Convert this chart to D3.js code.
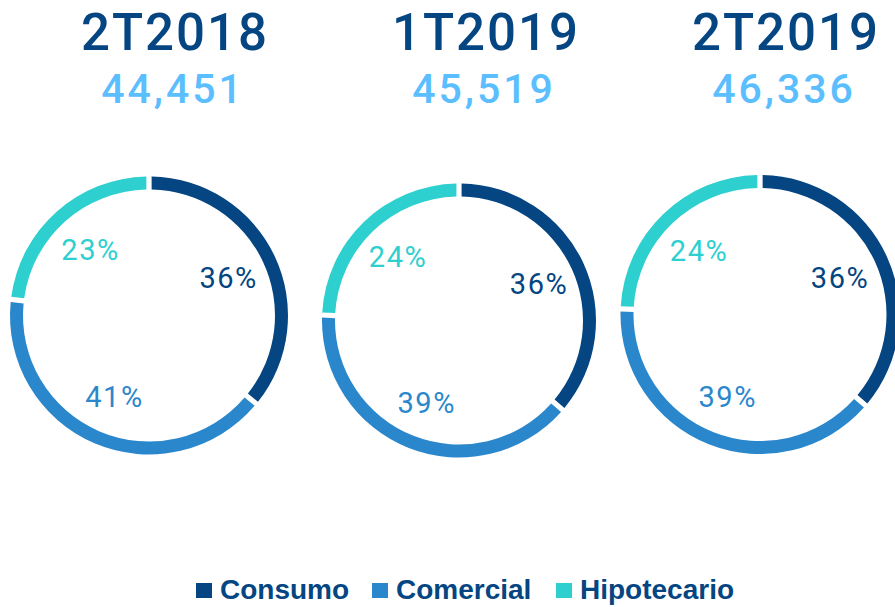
<!DOCTYPE html>
<html>
<head>
<meta charset="utf-8">
<script src="https://cdn.jsdelivr.net/npm/d3@7"></script>
<style>
  html, body { margin: 0; padding: 0; background: #fff; }
  svg { display: block; }
</style>
</head>
<body>
<svg id="chart"></svg>
<script>
// data
const periods = ["2T2018", "1T2019", "2T2019"];
const totals = ["44,451", "45,519", "46,336"];
const categories = ["Consumo", "Comercial", "Hipotecario"];
const consumo = [36, 36, 36];
const comercial = [41, 39, 39];
const hipotecario = [23, 24, 24];

const colors = ["#044582", "#2b87cc", "#2ecfcf"];
const navy = "#044582";
const lightBlue = "#5bbeff";

const width = 895, height = 607;

// per-ring layout (centre, radius, title centre)
const layout = [
  { cx: 149, cy: 315.5, r: 139, tx: 175 },
  { cx: 459, cy: 320.5, r: 137, tx: 486 },
  { cx: 760, cy: 314.5, r: 139.5, tx: 786 }
];
const thickness = 13;
const labelRadius = 88;

const svg = d3.select("#chart")
  .attr("width", width)
  .attr("height", height);

const pie = d3.pie()
  .sort(null)
  .value(d => d.value)
  .padAngle(0.028);

const color = d3.scaleOrdinal().domain(categories).range(colors);

periods.forEach((p, i) => {
  const L = layout[i];
  const shares = [consumo[i], comercial[i], hipotecario[i]]
    .map((v, k) => ({ cat: categories[k], value: v }));

  const arc = d3.arc()
    .innerRadius(L.r - thickness)
    .outerRadius(L.r);

  const labelArc = d3.arc()
    .innerRadius(labelRadius)
    .outerRadius(labelRadius);

  const g = svg.append("g")
    .attr("transform", `translate(${L.cx}, ${L.cy})`);

  const arcs = pie(shares);

  g.selectAll("path")
    .data(arcs)
    .join("path")
    .attr("d", arc)
    .attr("fill", d => color(d.data.cat));

  g.selectAll("text")
    .data(arcs)
    .join("text")
    .attr("transform", d => `translate(${labelArc.centroid(d)})`)
    .attr("text-anchor", "middle")
    .attr("dy", "0.36em")
    .attr("fill", d => color(d.data.cat))
    .style("font-family", "Roboto")
    .style("font-weight", 400)
    .style("font-size", "29px")
    .style("letter-spacing", "1.5px")
    .text(d => d.data.value + "%");

  // title + total
  svg.append("text")
    .attr("x", L.tx)
    .attr("y", 49.5)
    .attr("text-anchor", "middle")
    .attr("fill", navy)
    .style("font-family", "Roboto")
    .style("font-weight", 500)
    .style("font-size", "51px")
    .style("letter-spacing", "2px")
    .text(p);

  svg.append("text")
    .attr("x", L.tx - 2)
    .attr("y", 103)
    .attr("text-anchor", "middle")
    .attr("fill", lightBlue)
    .style("font-family", "Roboto")
    .style("font-weight", 500)
    .style("font-size", "41px")
    .style("letter-spacing", "3px")
    .text(totals[i]);
});

// legend
const legendX = [196, 372, 556];
const legend = svg.append("g").attr("class", "legend");

const items = legend.selectAll("g")
  .data(categories)
  .join("g")
  .attr("transform", (d, i) => `translate(${legendX[i]}, 583)`);

items.append("rect")
  .attr("width", 16)
  .attr("height", 15)
  .attr("fill", d => color(d));

items.append("text")
  .attr("x", 24)
  .attr("y", 16)
  .attr("fill", navy)
  .style("font-family", "'Liberation Sans', Arial, sans-serif")
  .style("font-weight", "bold")
  .style("font-size", "28px")
  .text(d => d);
</script>
</body>
</html>
